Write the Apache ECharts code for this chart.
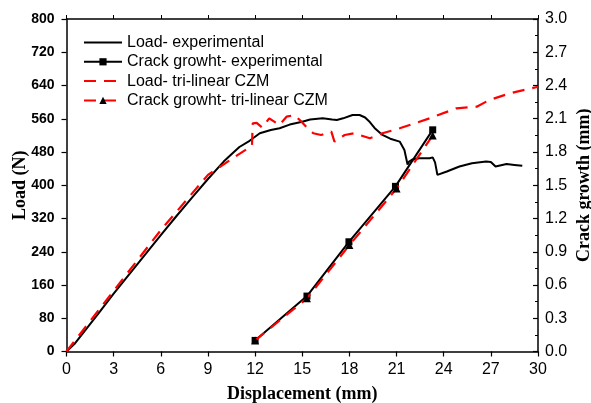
<!DOCTYPE html>
<html>
<head>
<meta charset="utf-8">
<script src="https://cdn.jsdelivr.net/npm/echarts@6/dist/echarts.min.js"></script>
<style>
html,body{margin:0;padding:0;background:#fff;}
#chart{width:591px;height:403px;}
</style>
</head>
<body>
<div id="chart"></div>
<script>
// ---- data ----
const xTicks = [0, 3, 6, 9, 12, 15, 18, 21, 24, 27, 30];
const loadTicks = [0, 80, 160, 240, 320, 400, 480, 560, 640, 720, 800];
const crackTicks = [0.0, 0.3, 0.6, 0.9, 1.2, 1.5, 1.8, 2.1, 2.4, 2.7, 3.0];

const loadExpDisp = [0, 0.5, 1, 2, 3, 4, 5, 6, 7, 8, 9, 10, 10.6, 11, 11.65, 12.3, 13.0, 13.56, 14.2, 15.0, 15.5, 16.3, 16.9, 17.2, 17.6, 18.2, 18.65, 19.0, 19.3, 19.6, 20.1, 20.6, 21.2, 21.5, 21.7, 21.8, 22.0, 22.45, 23.1, 23.3, 23.45, 23.6, 24.2, 25.0, 25.8, 26.7, 27.0, 27.3, 28.0, 28.5, 29.0];
const loadExpVal  = [0, 18, 42, 90, 139, 186, 233, 280, 326, 371, 415, 457, 478, 492, 507, 525, 533, 537, 546, 553, 558, 561, 558, 557, 561, 569, 569, 563, 552, 538, 521, 512, 505, 485, 450, 457, 462, 465, 465, 467, 455, 425, 433, 445, 453, 457, 456, 445, 451, 449, 447];

const loadCzmDisp = [0, 3, 6, 9, 10.5, 11.8, 11.85, 12.1, 12.45, 12.9, 13.55, 14.0, 14.5, 14.95, 15.25, 15.7, 16.2, 16.85, 17.05, 17.7, 18.3, 19.3, 20.1, 21.2, 23.1, 24.8, 26.1, 26.9, 28.2, 30];
const loadCzmVal  = [0, 146, 292, 425, 463, 495, 549, 550, 539, 561, 545, 565, 569, 553, 541, 525, 521, 529, 505, 521, 525, 513, 525, 537, 561, 585, 589, 605, 621, 637];

const crackExpDisp = [12.0, 15.3, 17.97, 20.93, 23.3];
const crackExpVal  = [0.10, 0.50, 0.99, 1.49, 2.00];

const crackCzmDisp = [12.0, 15.3, 18.0, 21.0, 23.3];
const crackCzmVal  = [0.10, 0.48, 0.96, 1.47, 1.95];

const zip = (a, b) => a.map((v, i) => [v, b[i]]);

const chart = echarts.init(document.getElementById('chart'), null, {renderer: 'canvas'});
const sans = 'Liberation Sans, Arial, sans-serif';
const serif = 'Liberation Serif, Times New Roman, serif';
const dash = [12, 8];

chart.setOption({
  animation: false,
  backgroundColor: '#fff',
  grid: {left: 66.5, right: 53, top: 19, bottom: 51.5, containLabel: false, outerBoundsMode: 'none'},
  legend: {
    orient: 'vertical', left: 78, top: 29.5,
    itemWidth: 38, itemHeight: 9, itemGap: 3.3,
    textStyle: {fontFamily: sans, fontSize: 16, color: '#000'},
    data: [
      {name: 'Load- experimental', itemStyle: {opacity: 0}},
      {name: 'Crack growht- experimental'},
      {name: 'Load- tri-linear CZM', itemStyle: {opacity: 0}},
      {name: 'Crack growht- tri-linear CZM'}
    ]
  },
  xAxis: [{
    type: 'value', min: 0, max: 30, interval: 3, position: 'bottom',
    name: 'Displacement (mm)', nameLocation: 'middle', nameGap: 34,
    nameTextStyle: {fontFamily: serif, fontWeight: 'bold', fontSize: 18, color: '#000'},
    axisLine: {show: true, onZero: false, lineStyle: {color: '#000', width: 1.5}},
    axisTick: {show: true, length: 5, lineStyle: {color: '#000', width: 1.2}},
    axisLabel: {fontFamily: sans, fontSize: 16, color: '#000', margin: 10,
      formatter: v => xTicks.includes(v) ? String(v) : ''},
    splitLine: {show: false}
  }, {
    type: 'value', min: 0, max: 30, interval: 3, position: 'top',
    axisLine: {show: true, onZero: false, lineStyle: {color: '#000', width: 1.5}},
    axisTick: {show: true, length: 4, lineStyle: {color: '#000', width: 1}},
    axisLabel: {show: false},
    splitLine: {show: false}
  }],
  yAxis: [{
    type: 'value', min: 0, max: 800, interval: 80, position: 'left',
    name: 'Load (N)', nameLocation: 'middle', nameGap: 37, nameRotate: 90, nameMoveOverlap: false,
    nameTextStyle: {fontFamily: serif, fontWeight: 'bold', fontSize: 18, color: '#000'},
    axisLine: {show: true, onZero: false, lineStyle: {color: '#000', width: 1.5}},
    axisTick: {show: true, length: 5, lineStyle: {color: '#000', width: 1.2}},
    axisLabel: {fontFamily: sans, fontSize: 14, fontWeight: 'bold', color: '#000', margin: 12,
      formatter: v => loadTicks.includes(v) ? String(v) : ''},
    splitLine: {show: false}
  }, {
    type: 'value', min: 0, max: 3, interval: 0.3, position: 'right',
    name: 'Crack growth (mm)', nameLocation: 'middle', nameGap: 37, nameRotate: 90, nameMoveOverlap: false,
    nameTextStyle: {fontFamily: serif, fontWeight: 'bold', fontSize: 18, color: '#000'},
    axisLine: {show: true, onZero: false, lineStyle: {color: '#000', width: 1.5}},
    axisTick: {show: true, inside: true, length: 5, lineStyle: {color: '#000', width: 1.2}},
    minorTick: {show: true, splitNumber: 2, length: 3, lineStyle: {color: '#000', width: 1}},
    axisLabel: {fontFamily: sans, fontSize: 16, color: '#000', margin: 7,
      formatter: v => { const r = Math.round(v * 10) / 10; return r.toFixed(1); }},
    splitLine: {show: false}
  }],
  series: [{
    name: 'Load- experimental', type: 'line', xAxisIndex: 0, yAxisIndex: 0,
    data: zip(loadExpDisp, loadExpVal), symbol: 'none',
    lineStyle: {color: '#000', width: 2}, itemStyle: {color: '#000'}, z: 3
  }, {
    name: 'Load- tri-linear CZM', type: 'line', xAxisIndex: 0, yAxisIndex: 0,
    data: zip(loadCzmDisp, loadCzmVal), symbol: 'none',
    lineStyle: {color: '#ff0000', width: 2.2, type: dash}, itemStyle: {color: '#ff0000'}, z: 4
  }, {
    name: 'Crack growht- experimental', type: 'line', xAxisIndex: 0, yAxisIndex: 1,
    data: zip(crackExpDisp, crackExpVal), symbol: 'rect', symbolSize: 7,
    lineStyle: {color: '#000', width: 2}, itemStyle: {color: '#000'}, z: 5
  }, {
    name: 'Crack growht- tri-linear CZM', type: 'line', xAxisIndex: 0, yAxisIndex: 1,
    data: zip(crackCzmDisp, crackCzmVal), symbol: 'triangle', symbolSize: 8,
    lineStyle: {color: '#ff0000', width: 2.2, type: dash}, itemStyle: {color: '#000'}, z: 6
  }]
});
</script>
</body>
</html>
